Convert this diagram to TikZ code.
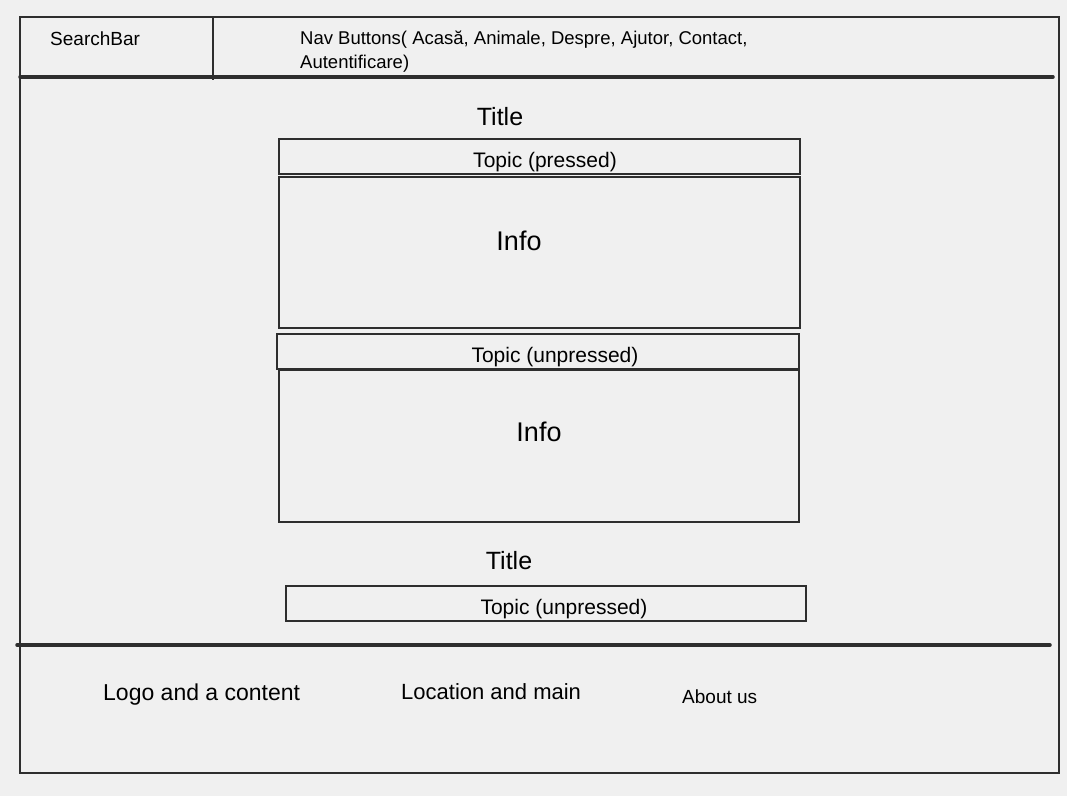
\documentclass[tikz,border=0pt]{standalone}
\usepackage{fontspec}
\setmainfont{Liberation Sans}
\definecolor{bg}{HTML}{F0F0F0}
\definecolor{ink}{HTML}{2E2E2E}
\begin{document}
\begin{tikzpicture}[x=1pt,y=-1pt,
  box/.style={draw=ink, line width=1.3pt, rectangle, inner sep=0pt},
  lbl/.style={text=black, inner sep=0pt, anchor=center},
  thickline/.style={draw=ink, line width=3.5pt, line cap=round}]
\fill[bg] (0,0) rectangle (1067,796);
\useasboundingbox (0,0) rectangle (1067,796);
% outer frame
\draw[ink, line width=1.3pt] (20,17) rectangle (1059,773);
% header
\draw[ink, line width=2pt] (213,17) -- (213,80);
\coordinate (hl) at (20,77);
\coordinate (hr) at (1053,77);
\draw[thickline] (hl) -- (hr);
\node[lbl, anchor=west, font=\fontsize{19}{21}\selectfont] (search) at (50,39) {SearchBar};
\node[lbl, anchor=north west, align=left, font=\fontsize{18.5}{24}\selectfont] (nav) at (300,31)
  {Nav Buttons( Acasă, Animale, Despre, Ajutor, Contact,\\Autentificare)};
% content
\node[lbl, font=\fontsize{25}{27}\selectfont] (title1) at (500,117) {Title};
\node[box, minimum width=521pt, minimum height=35pt] (topic1) at (539.5,156.5) {};
\node[lbl, font=\fontsize{21}{23}\selectfont] (topic1t) at (545,162) {Topic (pressed)};
\node[box, minimum width=521pt, minimum height=151pt] (info1) at (539.5,252.5) {};
\node[lbl, font=\fontsize{27}{29}\selectfont] (info1t) at (519,241) {Info};
\node[box, minimum width=522pt, minimum height=35pt] (topic2) at (538,351.5) {};
\node[lbl, font=\fontsize{21}{23}\selectfont] (topic2t) at (555,357) {Topic (unpressed)};
\node[box, minimum width=520pt, minimum height=152pt] (info2) at (539,446) {};
\node[lbl, font=\fontsize{27}{29}\selectfont] (info2t) at (539,432) {Info};
\node[lbl, font=\fontsize{25}{27}\selectfont] (title2) at (509,561) {Title};
\node[box, minimum width=520pt, minimum height=35pt] (topic3) at (546,603.5) {};
\node[lbl, font=\fontsize{21}{23}\selectfont] (topic3t) at (564,609) {Topic (unpressed)};
% footer
\coordinate (fl) at (17,645);
\coordinate (fr) at (1050,645);
\draw[thickline] (fl) -- (fr);
\node[lbl, anchor=west, font=\fontsize{23}{25}\selectfont] (logo) at (103,695) {Logo and a content};
\node[lbl, anchor=west, font=\fontsize{22}{24}\selectfont] (loc) at (401,692) {Location and main};
\node[lbl, anchor=west, font=\fontsize{19}{21}\selectfont] (about) at (682,697) {About us};
\end{tikzpicture}
\end{document}
